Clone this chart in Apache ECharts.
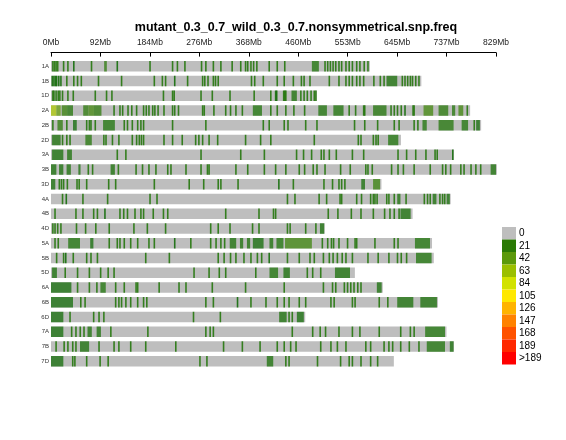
<!DOCTYPE html>
<html>
<head>
<meta charset="utf-8">
<script src="https://cdn.jsdelivr.net/npm/echarts@6/dist/echarts.min.js"></script>
<style>html,body{margin:0;padding:0;background:#fff}#chart{width:566px;height:440px}</style>
</head>
<body>
<div id="chart"></div>
<script>
const chartTitle = 'mutant_0.3_0.7_wild_0.3_0.7.nonsymmetrical.snp.freq';
const chromosomes = ['1A','1B','1D','2A','2B','2D','3A','3B','3D','4A','4B','4D','5A','5B','5D','6A','6B','6D','7A','7B','7D'];
const chromLengths = [594.1, 689.9, 495.5, 780.8, 801.3, 651.9, 750.8, 830.8, 615.6, 744.6, 673.6, 509.9, 709.8, 713.1, 566.1, 618.1, 721.0, 473.6, 736.7, 750.6, 638.7];
const axisMax = 829;
const tickLabels = ['0Mb','92Mb','184Mb','276Mb','368Mb','460Mb','553Mb','645Mb','737Mb','829Mb'];
const legendLabels = ['0','21','42','63','84','105','126','147','168','189','>189'];
const legendColors = ['#BEBEBE','#2A7A05','#5B990B','#9BBF00','#D2E200','#FFE800','#FFB400','#FF8200','#FF5200','#FF2800','#FF0000'];
const rampValues = [0,21,42,63,84,105,126,147,168,189,210];
const rampColors = ['#006400','#2A7A05','#5B990B','#9BBF00','#D2E200','#FFE800','#FFB400','#FF8200','#FF5200','#FF2800','#FF0000'];

// SNP density marks per chromosome: [posMb, count] = one bin, [startMb, endMb, count] = run of bins
const d1A = [[2,14],[5,16],[8,14],[11,16],[22,14],[30,14],[41,5],[74,14],[99,104,20],[122,6],[183,14],[225,14],[234,14],[248,14],[279,14],[287,14],[301,14],[315,14],[336,14],[352,14],[361,14],[365,14],[371,16],[376,14],[382,14],[405,14],[420,14],[434,14],[486,499,12],[509,14],[514,14],[519,14],[524,14],[529,14],[535,14],[540,14],[548,14],[554,14],[560,14],[568,14],[574,14],[582,14],[589,14]];
const d1B = [[1,6],[4,6],[7,6],[9,6],[13,6],[17,6],[28,14],[41,14],[48,14],[55,14],[87,14],[130,14],[191,14],[206,14],[212,14],[229,5],[253,14],[281,14],[285,14],[291,14],[301,14],[305,14],[310,14],[372,14],[378,14],[394,14],[420,14],[433,14],[450,14],[465,14],[470,14],[481,14],[517,14],[535,14],[548,14],[554,14],[560,14],[568,14],[574,14],[581,14],[600,14],[612,14],[619,14],[625,645,10],[653,14],[658,14],[663,14],[668,14],[672,14],[678,14],[684,14]];
const d1D = [[2,14],[4,14],[8,14],[12,14],[15,14],[20,14],[30,14],[40,14],[81,14],[102,14],[112,14],[208,14],[225,14],[228,14],[278,14],[299,14],[332,14],[377,14],[408,14],[417,6],[419,6],[432,14],[434,14],[436,14],[448,458,10],[464,14],[470,14],[476,14],[483,14],[489,14],[492,14]];
const d2A = [[0,10,70],[10,18,45],[20,30,25],[30,41,15],[60,70,20],[70,80,30],[80,94,20],[116,14],[127,14],[132,14],[142,14],[149,14],[158,14],[171,14],[176,14],[181,14],[188,14],[192,14],[198,14],[209,14],[225,14],[229,14],[236,14],[281,14],[284,14],[302,14],[324,14],[333,14],[343,14],[355,14],[376,393,12],[408,14],[420,14],[436,14],[451,14],[471,14],[498,514,12],[526,545,12],[554,14],[566,14],[581,14],[583,14],[600,625,14],[632,14],[638,14],[644,14],[651,14],[658,6],[673,14],[675,14],[694,712,30],[722,740,18],[747,753,15],[759,768,28],[774,14]];
const d2B = [[2,14],[12,22,20],[28,14],[41,48,5],[65,14],[70,14],[73,14],[81,14],[97,119,12],[135,14],[141,14],[150,14],[160,14],[166,14],[171,14],[225,14],[287,14],[394,14],[405,14],[433,14],[440,14],[473,14],[494,14],[564,14],[583,14],[607,14],[638,14],[647,14],[675,14],[682,14],[692,700,12],[722,750,14],[765,777,12],[787,14],[792,799,6]];
const d2D = [[2,18,10],[20,14],[28,14],[34,14],[64,76,15],[97,14],[101,14],[113,14],[125,14],[150,14],[158,14],[163,14],[167,14],[171,14],[209,14],[225,14],[243,14],[268,14],[274,14],[281,14],[293,14],[309,14],[361,14],[389,14],[408,14],[489,14],[571,14],[576,14],[599,14],[604,14],[608,14],[628,647,12]];
const d3A = [[2,23,8],[30,39,10],[122,14],[138,14],[278,14],[352,14],[396,14],[456,14],[469,14],[484,14],[502,14],[507,14],[517,14],[530,14],[560,14],[581,14],[645,14],[661,14],[678,14],[697,14],[714,14],[718,14],[747,6]];
const d3B = [[0,10,8],[15,23,8],[29,37,10],[51,55,8],[68,14],[76,14],[111,119,10],[124,14],[157,14],[169,14],[181,14],[194,14],[216,14],[222,14],[250,14],[278,14],[290,14],[293,14],[343,14],[365,14],[396,14],[417,14],[436,14],[461,14],[471,14],[487,14],[494,14],[509,14],[538,14],[556,14],[585,14],[589,14],[597,14],[633,14],[645,14],[655,14],[675,14],[705,14],[728,14],[734,14],[743,14],[762,14],[768,14],[781,14],[790,14],[799,14],[819,829,10]];
const d3D = [[0,8,8],[14,14],[18,14],[22,14],[29,14],[47,14],[51,14],[65,14],[106,14],[119,14],[191,14],[256,14],[283,14],[310,14],[315,14],[347,14],[423,6],[450,14],[507,14],[523,14],[535,14],[540,14],[546,14],[578,585,8],[600,613,25]];
const d4A = [[20,14],[27,6],[58,14],[104,14],[183,14],[196,14],[439,14],[453,14],[498,14],[512,14],[537,14],[540,14],[568,14],[577,14],[594,14],[599,14],[602,14],[606,14],[624,14],[628,14],[638,14],[645,651,10],[660,14],[694,14],[700,14],[705,14],[711,718,10],[723,14],[728,14],[732,14],[737,743,8]];
const d4B = [[6,14],[45,14],[58,14],[78,14],[85,14],[99,5],[127,14],[134,14],[141,14],[155,14],[166,14],[171,14],[189,14],[208,14],[216,14],[324,14],[386,14],[413,14],[417,14],[515,14],[533,14],[558,14],[576,14],[599,14],[620,14],[630,14],[638,14],[647,14],[651,670,10]];
const d4D = [[2,14],[6,14],[11,14],[17,14],[46,14],[63,14],[82,14],[107,14],[153,14],[178,14],[212,14],[296,14],[310,14],[332,14],[374,14],[386,14],[439,14],[444,14],[473,14],[492,14],[501,509,8]];
const d5A = [[6,14],[12,14],[32,54,12],[73,79,6],[107,14],[122,14],[127,14],[135,14],[147,14],[160,14],[181,14],[191,14],[229,5],[259,14],[296,14],[306,14],[315,14],[322,14],[333,345,10],[352,358,10],[365,371,10],[376,396,6],[407,414,10],[420,433,12],[436,486,28],[504,14],[514,14],[521,14],[525,14],[535,14],[551,14],[565,14],[568,14],[602,14],[638,14],[645,14],[678,706,12]];
const d5B = [[9,14],[22,14],[26,5],[40,14],[65,14],[73,14],[85,14],[175,14],[219,14],[310,14],[321,14],[333,14],[343,14],[358,14],[371,14],[383,14],[391,14],[405,6],[439,14],[461,14],[481,14],[489,14],[506,14],[517,14],[524,14],[532,14],[541,14],[548,14],[560,14],[589,14],[608,14],[628,14],[644,14],[651,14],[661,14],[680,709,12]];
const d5D = [[2,11,8],[25,14],[48,14],[70,14],[91,14],[105,14],[116,14],[265,14],[293,14],[312,14],[324,14],[380,14],[407,423,12],[433,445,8],[476,14],[486,14],[501,14],[529,557,10]];
const d6A = [[0,38,6],[48,14],[70,14],[84,14],[92,102,12],[119,14],[135,14],[157,14],[160,14],[200,14],[237,14],[250,14],[299,14],[361,14],[433,14],[506,14],[523,14],[529,14],[545,14],[551,14],[557,14],[563,14],[570,14],[576,14],[607,616,8]];
const d6B = [[0,41,6],[54,14],[62,14],[119,14],[125,14],[130,14],[138,14],[147,14],[160,14],[171,14],[177,14],[287,14],[301,14],[346,5],[371,14],[399,14],[420,14],[433,14],[442,14],[461,14],[473,14],[520,14],[526,14],[560,14],[565,14],[610,14],[626,14],[645,675,10],[688,719,10]];
const d6D = [[0,23,6],[34,14],[78,14],[88,14],[97,14],[264,14],[314,14],[425,439,10],[442,14],[448,14],[458,471,6]];
const d7A = [[0,23,6],[37,14],[45,14],[53,14],[60,14],[68,76,10],[85,93,10],[110,14],[179,14],[287,14],[295,14],[301,14],[448,14],[486,14],[500,14],[510,14],[535,14],[560,14],[574,14],[610,14],[650,14],[668,14],[675,14],[697,734,12]];
const d7B = [[8,14],[23,14],[30,14],[39,14],[45,14],[54,71,10],[88,14],[116,14],[125,14],[147,14],[175,14],[231,14],[320,14],[355,14],[388,14],[420,14],[433,14],[445,14],[455,14],[501,14],[520,14],[532,14],[548,14],[585,14],[594,14],[619,14],[628,14],[635,14],[650,14],[666,14],[684,14],[700,734,12],[743,750,8]];
const d7D = [[0,23,6],[39,14],[43,14],[65,14],[90,14],[105,14],[276,14],[289,14],[402,414,10],[436,14],[442,14],[495,14],[538,14],[554,14],[560,14],[576,14],[594,14],[607,14]];

const densityByChrom = [d1A,d1B,d1D,d2A,d2B,d2D,d3A,d3B,d3D,d4A,d4B,d4D,d5A,d5B,d5D,d6A,d6B,d6D,d7A,d7B,d7D];

function hexToRgb(h){return [parseInt(h.slice(1,3),16),parseInt(h.slice(3,5),16),parseInt(h.slice(5,7),16)];}
function countColor(c){
  if (c >= rampValues[rampValues.length-1]) return rampColors[rampColors.length-1];
  for (let i = 0; i < rampValues.length-1; i++) {
    if (c <= rampValues[i+1]) {
      const t = (c - rampValues[i]) / (rampValues[i+1]-rampValues[i]);
      const a = hexToRgb(rampColors[i]), b = hexToRgb(rampColors[i+1]);
      const r = a.map((v,k)=>Math.round(v + (b[k]-v)*t));
      return 'rgb(' + r.join(',') + ')';
    }
  }
  return rampColors[0];
}

const barData = chromLengths.map((len, i) => [i, 0, len]);
const markData = [];
densityByChrom.forEach((arr, i) => {
  arr.forEach(m => {
    if (m.length === 2) markData.push([i, m[0], m[0] + 1, m[1]]);
    else markData.push([i, m[0], m[1], m[2]]);
  });
});

const BAR_H = 10.5;
const FONT = 'Liberation Sans, Arial, sans-serif';

const chart = echarts.init(document.getElementById('chart'), null, {renderer: 'canvas'});
const option = {
  backgroundColor: '#ffffff',
  animation: false,
  title: {
    text: chartTitle,
    left: 291,
    textAlign: 'center',
    top: 16,
    textStyle: {fontFamily: FONT, fontSize: 12.5, fontWeight: 'bold', color: '#000'}
  },
  grid: {left: 51, right: 70, top: 58.9, height: 309.75},
  xAxis: {
    type: 'value',
    position: 'top',
    offset: 6.3,
    min: 0,
    max: axisMax,
    interval: axisMax / 9,
    axisLine: {show: true, lineStyle: {color: '#000', width: 1}},
    axisTick: {show: true, inside: true, length: 4, lineStyle: {color: '#000'}},
    axisLabel: {
      fontFamily: FONT, fontSize: 8.5, color: '#222', margin: 5,
      formatter: v => tickLabels[Math.round(v / (axisMax / 9))]
    },
    splitLine: {show: false}
  },
  yAxis: {
    type: 'category',
    data: chromosomes,
    inverse: true,
    axisLine: {show: false},
    axisTick: {show: false},
    axisLabel: {fontFamily: FONT, fontSize: 6, color: '#333', margin: 2},
    splitLine: {show: false}
  },
  series: [
    {
      type: 'custom',
      data: barData,
      encode: {x: [1, 2], y: 0},
      renderItem: (params, api) => {
        const idx = api.value(0);
        const s = api.coord([api.value(1), idx]);
        const e = api.coord([api.value(2), idx]);
        return {type: 'rect', shape: {x: s[0], y: s[1] - BAR_H / 2, width: e[0] - s[0], height: BAR_H}, style: {fill: legendColors[0]}};
      },
      silent: true
    },
    {
      type: 'custom',
      data: markData,
      encode: {x: [1, 2], y: 0},
      renderItem: (params, api) => {
        const idx = api.value(0);
        const s = api.coord([api.value(1), idx]);
        const e = api.coord([api.value(2), idx]);
        const raw = e[0] - s[0];
        const single = raw < 1.5;
        const w = single ? 1.6 : raw;
        return {type: 'rect', shape: {x: s[0], y: s[1] - BAR_H / 2, width: w, height: BAR_H}, style: {fill: countColor(api.value(3)), opacity: single ? 0.85 : 0.72}};
      },
      silent: true
    }
  ],
  graphic: legendLabels.map((lab, i) => ({
    type: 'group',
    children: [
      {type: 'rect', shape: {x: 502, y: 227 + i * 12.5, width: 14, height: 12.5}, style: {fill: legendColors[i]}},
      {type: 'text', x: 519, y: 227 + i * 12.5 + 6.25, style: {text: lab, font: '10px ' + FONT, fill: '#000', verticalAlign: 'middle', textVerticalAlign: 'middle'}}
    ]
  }))
};
chart.setOption(option);
</script>
</body>
</html>
